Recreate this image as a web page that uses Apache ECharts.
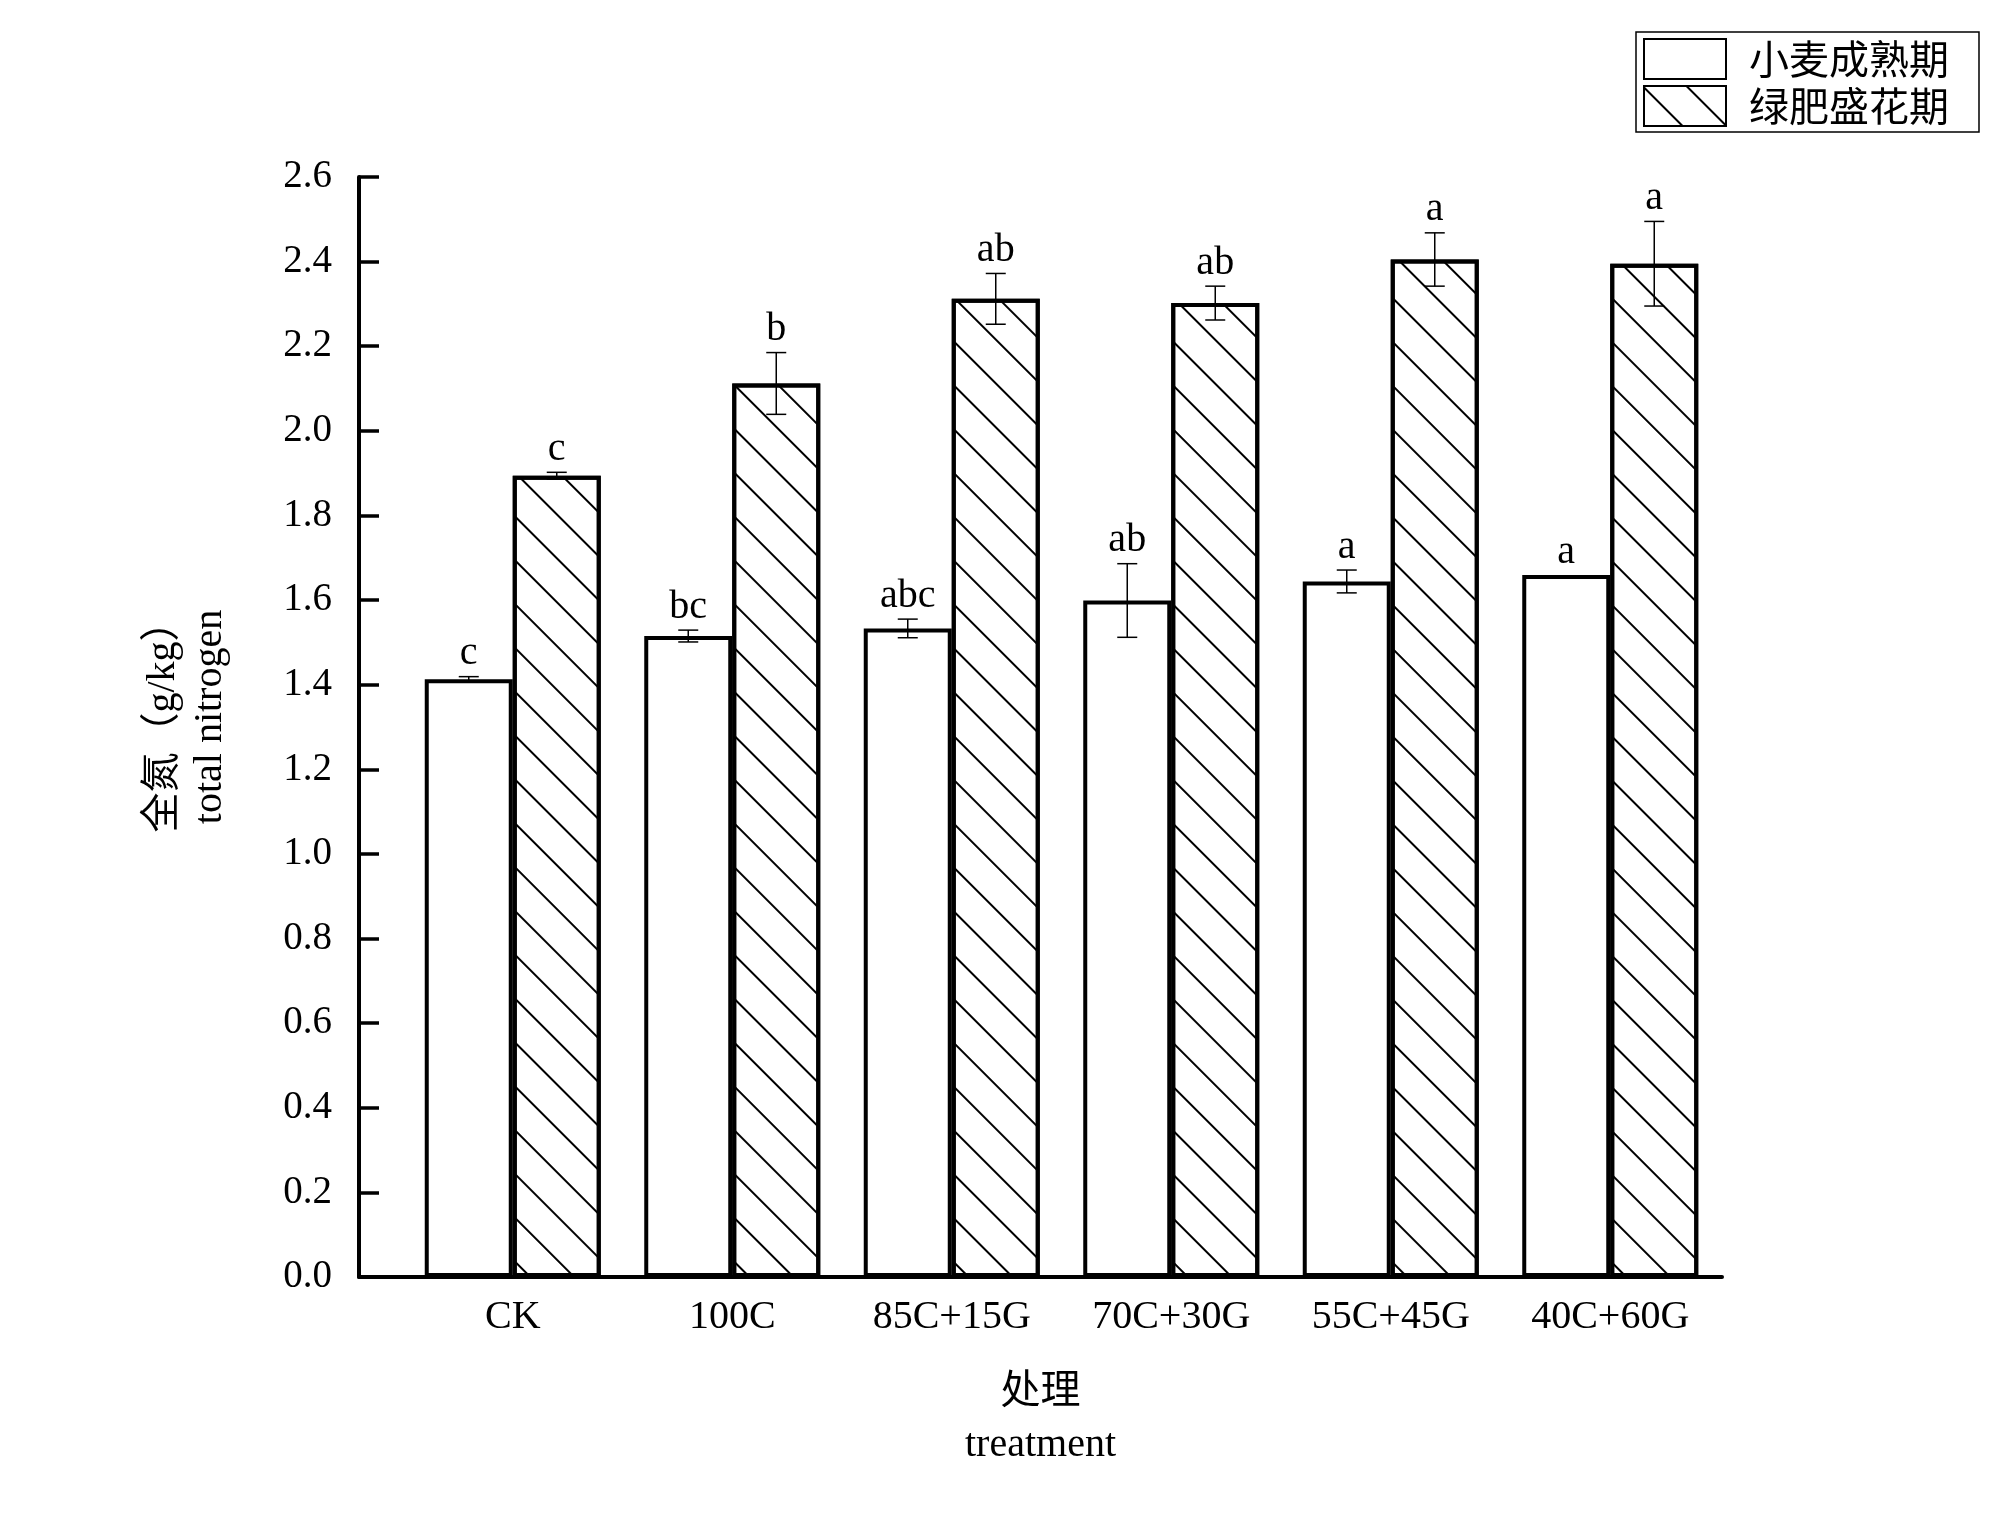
<!DOCTYPE html>
<html>
<head>
<meta charset="utf-8">
<script src="https://cdn.jsdelivr.net/npm/echarts@6/dist/echarts.min.js"></script>
<style>
  html, body { margin: 0; padding: 0; background: #fff; }
  #chart { width: 1999px; height: 1530px; }
</style>
</head>
<body>
<div id="chart"></div>
<script>
// treatments
const categories = ['CK', '100C', '85C+15G', '70C+30G', '55C+45G', '40C+60G'];
const seriesNames = ['小麦成熟期', '绿肥盛花期'];

// total nitrogen g/kg
const wheatValues = [1.413, 1.515, 1.533, 1.599, 1.644, 1.659];
const wheatErr = [0.006, 0.014, 0.022, 0.087, 0.027, 0];
const wheatLetters = ['c', 'bc', 'abc', 'ab', 'a', 'a'];

const manureValues = [1.894, 2.112, 2.312, 2.302, 2.405, 2.395];
const manureErr = [0.008, 0.073, 0.060, 0.040, 0.063, 0.100];
const manureLetters = ['c', 'b', 'ab', 'ab', 'a', 'a'];

const yTicks = { min: 0, max: 2.6, interval: 0.2 };

const serif = "'Liberation Serif', 'Times New Roman', 'Noto Sans CJK SC', serif";
const BAR_W = 88;

const hatch = {
  symbol: 'rect',
  symbolSize: 1,
  color: '#000',
  dashArrayX: [1, 0],
  dashArrayY: [2, 29],
  rotation: Math.PI / 4
};

function errorItem(values, errs, letters, side) {
  return function (params, api) {
    const i = params.dataIndex;
    const v = values[i], e = errs[i];
    const base = api.coord([i, v]);
    const x = base[0] + side * BAR_W / 2;
    const top = api.coord([i, v + e])[1];
    const bot = api.coord([i, v - e])[1];
    const style = { stroke: '#000', lineWidth: 1.5 };
    const children = [];
    if (e > 0) {
      children.push(
        { type: 'line', shape: { x1: x, y1: top, x2: x, y2: bot }, style: style },
        { type: 'line', shape: { x1: x - 10, y1: top, x2: x + 10, y2: top }, style: style },
        { type: 'line', shape: { x1: x - 10, y1: bot, x2: x + 10, y2: bot }, style: style }
      );
    }
    children.push({
      type: 'text',
      style: {
        x: x, y: top - 3, text: letters[i],
        textAlign: 'center', textVerticalAlign: 'bottom',
        font: '40px ' + serif, fill: '#000'
      }
    });
    return { type: 'group', children: children };
  };
}

const chart = echarts.init(document.getElementById('chart'));
const option = {
  backgroundColor: '#fff',
  animation: false,
  legend: {
    orient: 'vertical',
    left: 1636,
    top: 32,
    icon: 'rect',
    itemWidth: 82,
    itemHeight: 40,
    itemGap: 5,
    padding: [6, 30, 5, 7],
    borderColor: '#000',
    borderWidth: 1.5,
    data: seriesNames,
    textStyle: { fontSize: 40, lineHeight: 40, color: '#000', fontFamily: "'Noto Sans CJK SC', sans-serif", padding: [0, 0, 0, 18] }
  },
  grid: [
    // axis frame
    { left: 359, right: 277, top: 177, bottom: 253, outerBoundsMode: 'none' },
    // bars (first category sits 0.7 band from the y axis)
    { left: 403, right: 279, top: 177, bottom: 253, outerBoundsMode: 'none' }
  ],
  xAxis: [
    {
      type: 'value', gridIndex: 0, min: 0, max: 1,
      axisLine: { show: true, lineStyle: { color: '#000', width: 4 } },
      axisTick: { show: false }, axisLabel: { show: false }, splitLine: { show: false },
      name: '处理\ntreatment', nameLocation: 'middle', nameGap: 89,
      nameTextStyle: { fontSize: 40, lineHeight: 53, color: '#000', fontFamily: serif }
    },
    {
      type: 'category', gridIndex: 1, data: categories,
      axisLine: { show: false }, axisTick: { show: false }, splitLine: { show: false },
      axisLabel: { fontSize: 40, color: '#000', fontFamily: serif, margin: 20 }
    }
  ],
  yAxis: [
    {
      type: 'value', gridIndex: 0,
      min: yTicks.min, max: yTicks.max, interval: yTicks.interval,
      axisLine: { show: true, lineStyle: { color: '#000', width: 4 } },
      axisTick: { show: true, inside: true, length: 20, lineStyle: { color: '#000', width: 3.5 } },
      axisLabel: { fontSize: 39, color: '#000', fontFamily: serif, margin: 27, formatter: v => v.toFixed(1) },
      splitLine: { show: false },
      name: '全氮（g/kg）\ntotal nitrogen', nameLocation: 'middle', nameGap: 125, nameRotate: 90,
      nameTextStyle: { fontSize: 40, lineHeight: 47, color: '#000', fontFamily: serif, padding: [0, 0, 0, 20] }
    },
    {
      type: 'value', gridIndex: 1, min: yTicks.min, max: yTicks.max, interval: yTicks.interval,
      show: false, splitLine: { show: false }
    }
  ],
  series: [
    {
      name: seriesNames[0], type: 'bar', xAxisIndex: 1, yAxisIndex: 1,
      data: wheatValues, barWidth: BAR_W, barGap: '0%',
      itemStyle: { color: '#fff', borderColor: '#000', borderWidth: 4 }
    },
    {
      name: seriesNames[1], type: 'bar', xAxisIndex: 1, yAxisIndex: 1,
      data: manureValues, barWidth: BAR_W, barGap: '0%',
      itemStyle: { color: '#fff', borderColor: '#000', borderWidth: 4, decal: hatch }
    },
    {
      type: 'custom', xAxisIndex: 1, yAxisIndex: 1, z: 10,
      data: wheatValues.map((v, i) => [i, v]),
      renderItem: errorItem(wheatValues, wheatErr, wheatLetters, -1)
    },
    {
      type: 'custom', xAxisIndex: 1, yAxisIndex: 1, z: 10,
      data: manureValues.map((v, i) => [i, v]),
      renderItem: errorItem(manureValues, manureErr, manureLetters, 1)
    }
  ]
};
chart.setOption(option);
</script>
</body>
</html>
